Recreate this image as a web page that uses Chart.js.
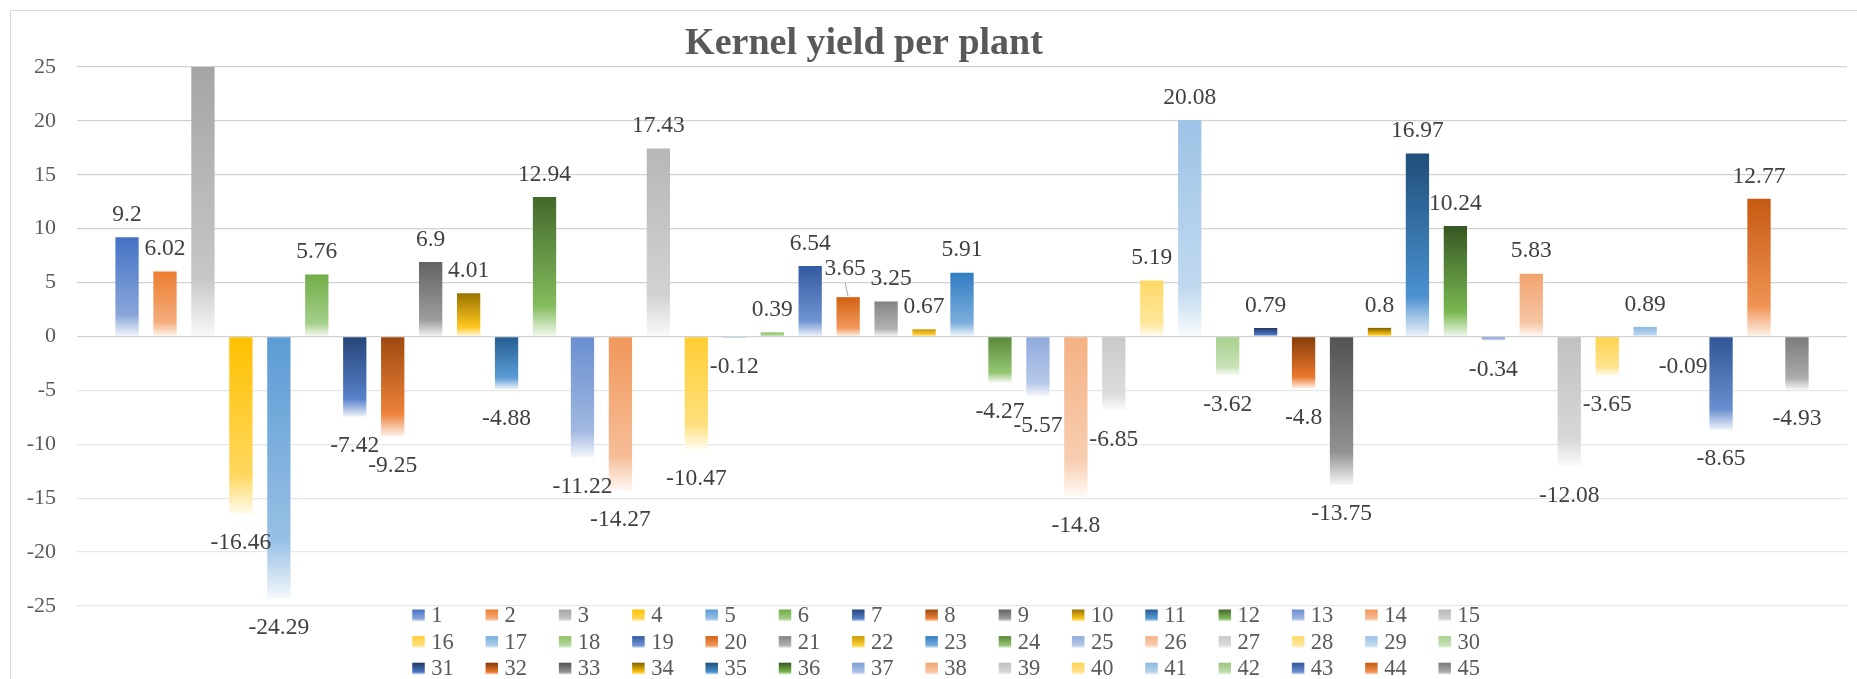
<!DOCTYPE html>
<html>
<head>
<meta charset="utf-8">
<title>Kernel yield per plant</title>
<script src="https://cdn.jsdelivr.net/npm/chart.js@4/dist/chart.umd.min.js"></script>
<style>
  html, body { margin: 0; padding: 0; background: #ffffff; }
  #wrap { position: relative; width: 1857px; height: 679px; }
  canvas { display: block; }
</style>
</head>
<body>
<div id="wrap"><canvas id="chart" width="1857" height="679"></canvas></div>
<script>
// ---- data ----
const chartTitle = 'Kernel yield per plant';
const groups = [''];
const plants = ['1','2','3','4','5','6','7','8','9','10','11','12','13','14','15',
  '16','17','18','19','20','21','22','23','24','25','26','27','28','29','30',
  '31','32','33','34','35','36','37','38','39','40','41','42','43','44','45'];
const yieldValues = [9.2, 6.02, 26, -16.46, -24.29, 5.76, -7.42, -9.25, 6.9, 4.01,
  -4.88, 12.94, -11.22, -14.27, 17.43, -10.47, -0.12, 0.39, 6.54, 3.65,
  3.25, 0.67, 5.91, -4.27, -5.57, -14.8, -6.85, 5.19, 20.08, -3.62,
  0.79, -4.8, -13.75, 0.8, 16.97, 10.24, -0.34, 5.83, -12.08, -3.65,
  0.89, -0.09, -8.65, 12.77, -4.93];
const yMin = -25, yMax = 25, yStep = 5;

// ---- series colours (Office theme cycle) ----
const seriesColors = [
  '#4472C4','#ED7D31','#A5A5A5','#FFC000','#5B9BD5','#70AD47',
  '#264478','#9E480E','#636363','#997300','#255E91','#43682B',
  '#698ED0','#F1975A','#B7B7B7','#FFCD33','#7CAFDD','#8CC168',
  '#335AA1','#D26012','#848484','#CC9A00','#327DC2','#5A8A39',
  '#8FAADC','#F4B183','#C9C9C9','#FFD966','#9DC3E6','#A9D18E',
  '#203864','#843C0C','#525252','#7F6000','#1F4E79','#375623',
  '#7C9CD6','#F2A46F','#C0C0C0','#FFD34D','#8CB9E2','#9BC67E',
  '#2F5597','#C55A11','#7B7B7B'
];

// label adjustments (plant -> [dx, dy, leader line])
const labelNudge = { '20': [-3, -6, true], '21': [5, 0, false] };

const serif = '"Liberation Serif", "Times New Roman", serif';

// ---- colour helpers ----
function lighten(hex, k) {
  const n = parseInt(hex.slice(1), 16);
  let r = (n >> 16 & 255) / 255, g = (n >> 8 & 255) / 255, b = (n & 255) / 255;
  const max = Math.max(r, g, b), min = Math.min(r, g, b);
  let h = 0, s = 0, l = (max + min) / 2;
  if (max !== min) {
    const d = max - min;
    s = l > 0.5 ? d / (2 - max - min) : d / (max + min);
    if (max === r) h = (g - b) / d + (g < b ? 6 : 0);
    else if (max === g) h = (b - r) / d + 2;
    else h = (r - g) / d + 4;
    h /= 6;
  }
  l = l + (1 - l) * k;
  const hue = (p, q, t) => {
    if (t < 0) t += 1; if (t > 1) t -= 1;
    if (t < 1 / 6) return p + (q - p) * 6 * t;
    if (t < 1 / 2) return q;
    if (t < 2 / 3) return p + (q - p) * (2 / 3 - t) * 6;
    return p;
  };
  let rr, gg, bb;
  if (s === 0) { rr = gg = bb = l; }
  else {
    const q = l < 0.5 ? l * (1 + s) : l + s - l * s;
    const p = 2 * l - q;
    rr = hue(p, q, h + 1 / 3); gg = hue(p, q, h); bb = hue(p, q, h - 1 / 3);
  }
  return `rgb(${Math.round(rr * 255)},${Math.round(gg * 255)},${Math.round(bb * 255)})`;
}

function fadeGradient(ctx, top, bottom, color) {
  const grad = ctx.createLinearGradient(0, top, 0, Math.max(bottom, top + 0.01));
  grad.addColorStop(0, color);
  grad.addColorStop(0.78, lighten(color, 0.37));
  grad.addColorStop(1, lighten(color, 0.93));
  return grad;
}

function barFill(context, i) {
  const chart = context.chart;
  const area = chart.chartArea;
  const color = seriesColors[i];
  if (!area || context.raw === undefined) return color;
  const y = chart.scales.y;
  const p0 = y.getPixelForValue(0), p1 = y.getPixelForValue(context.raw);
  const top = Math.max(Math.min(p0, p1), area.top);
  const bottom = Math.min(Math.max(p0, p1), area.bottom);
  return fadeGradient(chart.ctx, top, bottom, color);
}

// ---- plugins ----
const frameAndTitle = {
  id: 'frameAndTitle',
  beforeDraw(chart) {
    const ctx = chart.ctx;
    ctx.save();
    ctx.strokeStyle = '#D9D9D9';
    ctx.lineWidth = 1;
    ctx.beginPath();
    ctx.moveTo(10.5, chart.height);
    ctx.lineTo(10.5, 10.5);
    ctx.lineTo(chart.width, 10.5);
    ctx.stroke();
    ctx.fillStyle = '#595959';
    ctx.font = 'bold 38px ' + serif;
    ctx.textAlign = 'center';
    ctx.textBaseline = 'alphabetic';
    ctx.fillText(chartTitle, 864, 53.5);
    ctx.restore();
  }
};

const valueLabels = {
  id: 'valueLabels',
  afterDatasetsDraw(chart) {
    const ctx = chart.ctx;
    ctx.save();
    ctx.font = '23.5px ' + serif;
    ctx.fillStyle = '#404040';
    ctx.textAlign = 'center';
    ctx.textBaseline = 'alphabetic';
    chart.data.datasets.forEach((ds, i) => {
      const v = ds.data[0];
      if (v > yMax || v < yMin) return;
      const bar = chart.getDatasetMeta(i).data[0];
      const nudge = labelNudge[ds.label] || [0, 0, false];
      const x = bar.x + nudge[0];
      const base = v >= 0 ? bar.y - 16.3 : bar.y + 35.5;
      const yText = base + nudge[1];
      ctx.fillText(String(v), x, yText);
      if (nudge[2]) {
        ctx.strokeStyle = '#A6A6A6';
        ctx.lineWidth = 1;
        ctx.beginPath();
        ctx.moveTo(x, yText + 8);
        ctx.lineTo(bar.x, bar.y - 0.5);
        ctx.stroke();
      }
    });
    ctx.restore();
  }
};

const gridLegend = {
  id: 'gridLegend',
  afterDraw(chart) {
    const ctx = chart.ctx;
    const area = chart.chartArea;
    const cols = 15, colW = 73.3, rowH = 26.6;
    const x0 = (area.left + area.right) / 2 - cols * colW / 2;
    const y0 = area.bottom + 3.5;
    ctx.save();
    ctx.font = '22.5px ' + serif;
    ctx.textAlign = 'left';
    ctx.textBaseline = 'alphabetic';
    chart.data.datasets.forEach((ds, i) => {
      const c = i % cols, r = Math.floor(i / cols);
      const bx = x0 + c * colW, by = y0 + r * rowH;
      ctx.fillStyle = fadeGradient(ctx, by, by + 12, seriesColors[i]);
      ctx.fillRect(bx, by, 12.5, 12);
      ctx.fillStyle = '#595959';
      ctx.fillText(ds.label, bx + 19, by + 12.5);
    });
    ctx.restore();
  }
};

// ---- chart ----
new Chart(document.getElementById('chart'), {
  type: 'bar',
  data: {
    labels: groups,
    datasets: plants.map((p, i) => ({
      label: p,
      data: [yieldValues[i]],
      backgroundColor: (context) => barFill(context, i),
      borderWidth: 0,
      categoryPercentage: 0.9649,
      barPercentage: 0.614
    }))
  },
  options: {
    responsive: false,
    maintainAspectRatio: false,
    devicePixelRatio: 1,
    animation: false,
    layout: { padding: { left: 0, right: 10, top: 67, bottom: 73 } },
    plugins: {
      legend: { display: false },
      title: { display: false },
      tooltip: { enabled: false }
    },
    scales: {
      x: { display: false },
      y: {
        min: yMin,
        max: yMax,
        ticks: {
          stepSize: yStep,
          padding: 21,
          color: '#595959',
          font: { family: serif, size: 22 }
        },
        grid: {
          drawTicks: false,
          lineWidth: 1.3,
          color: (c) => (c.tick && c.tick.value >= 0 ? '#D2D2D2' : '#E6E6E6')
        },
        border: { display: false },
        afterFit(scale) { scale.width = 77; }
      }
    }
  },
  plugins: [frameAndTitle, valueLabels, gridLegend]
});
</script>
</body>
</html>
